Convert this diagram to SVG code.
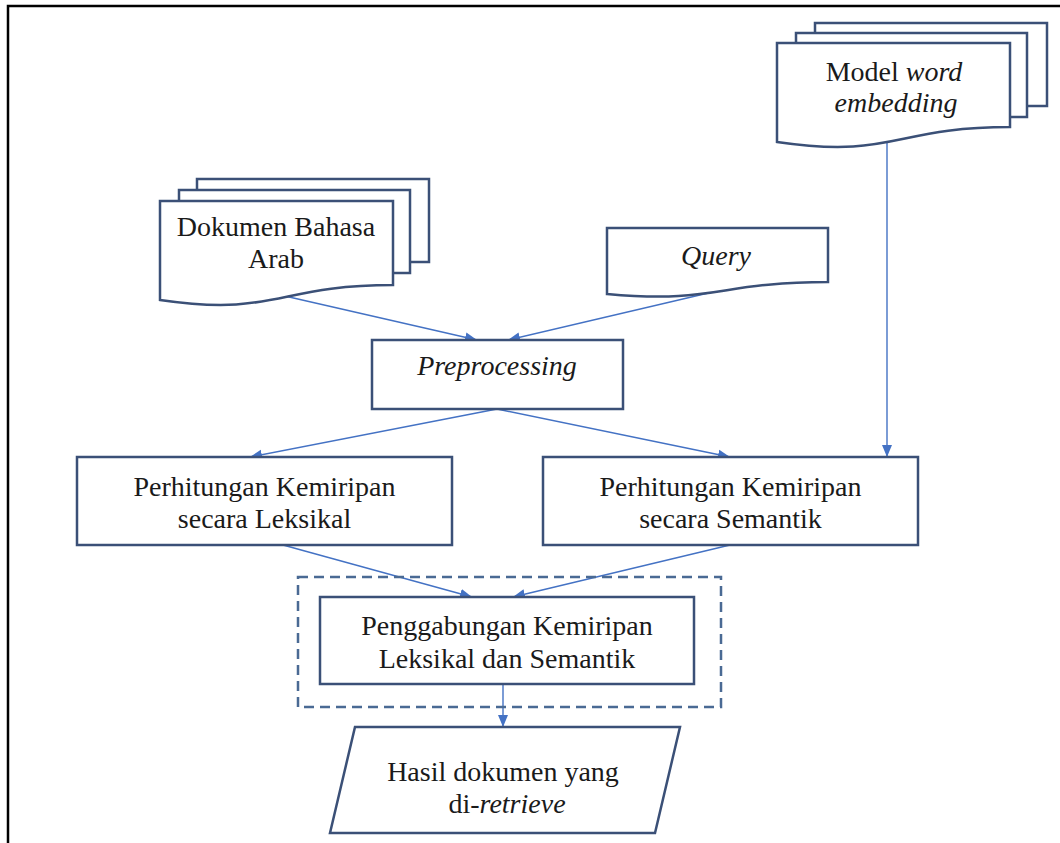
<svg xmlns="http://www.w3.org/2000/svg" width="1060" height="843" viewBox="0 0 1060 843">
<style>
.box{fill:#ffffff;stroke:#3b5077;stroke-width:2.5}
.con{fill:none;stroke:#4472c4;stroke-width:1.4}
.dash{fill:none;stroke:#4a6a94;stroke-width:2.5;stroke-dasharray:10 6}
.t{font-family:"Liberation Serif","Times New Roman",serif;font-size:28px;fill:#1a1a1a;text-anchor:middle}
.i{font-style:italic}
</style>
<defs>
<marker id="arr" viewBox="0 0 12 10" refX="12" refY="5" markerWidth="12" markerHeight="11" markerUnits="userSpaceOnUse" orient="auto"><path d="M0,0 L12,5 L0,10 z" fill="#4472c4"/></marker>
</defs>
<rect width="1060" height="843" fill="#ffffff"/>
<path d="M8,843 V6 H1060" fill="none" stroke="#000" stroke-width="2.5"/>

<g id="connectors">
<line class="con" x1="276" y1="294" x2="477" y2="340" marker-end="url(#arr)"/>
<line class="con" x1="717" y1="291" x2="508" y2="340" marker-end="url(#arr)"/>
<line class="con" x1="887" y1="141" x2="887" y2="457" marker-end="url(#arr)"/>
<line class="con" x1="497" y1="409" x2="250" y2="457" marker-end="url(#arr)"/>
<line class="con" x1="497" y1="409" x2="730" y2="457" marker-end="url(#arr)"/>
<line class="con" x1="283" y1="545" x2="472" y2="597" marker-end="url(#arr)"/>
<line class="con" x1="730" y1="545" x2="513" y2="597" marker-end="url(#arr)"/>
<line class="con" x1="503" y1="684" x2="503" y2="727" marker-end="url(#arr)"/>
</g>

<g id="model">
<rect class="box" x="815" y="23" width="232" height="83"/>
<rect class="box" x="796" y="33" width="231" height="84"/>
<path class="box" d="M777,43 H1010 V127 C893.5,127 893.5,159 777,142 Z"/>
<text class="t" x="894" y="81">Model <tspan class="i">word</tspan></text>
<text class="t i" x="896" y="112">embedding</text>
</g>

<g id="dokumen">
<rect class="box" x="197" y="179" width="232" height="83"/>
<rect class="box" x="179" y="190" width="231" height="83"/>
<path class="box" d="M160,201 H393 V285 C276.5,285 276.5,317 160,300 Z"/>
<text class="t" x="276" y="236">Dokumen Bahasa</text>
<text class="t" x="276" y="268">Arab</text>
</g>

<g id="query">
<path class="box" d="M607,228 H828 V282 C717.5,282 717.5,304 607,294 Z"/>
<text class="t i" x="716" y="265">Query</text>
</g>

<g id="preprocessing">
<rect class="box" x="372" y="340" width="251" height="69"/>
<text class="t i" x="497" y="375">Preprocessing</text>
</g>

<g id="leksikal">
<rect class="box" x="77" y="457" width="375" height="88"/>
<text class="t" x="264.5" y="496">Perhitungan Kemiripan</text>
<text class="t" x="264.5" y="528">secara Leksikal</text>
</g>

<g id="semantik">
<rect class="box" x="543" y="457" width="375" height="88"/>
<text class="t" x="730.5" y="496">Perhitungan Kemiripan</text>
<text class="t" x="730.5" y="528">secara Semantik</text>
</g>

<g id="penggabungan">
<rect class="dash" x="298" y="577" width="423" height="130"/>
<rect class="box" x="320" y="597" width="374" height="87"/>
<text class="t" x="507" y="635">Penggabungan Kemiripan</text>
<text class="t" x="507" y="668">Leksikal dan Semantik</text>
</g>

<g id="hasil">
<path class="box" d="M355,727 L680,727 L655,833 L330,833 Z"/>
<text class="t" x="503" y="781">Hasil dokumen yang</text>
<text class="t" x="507" y="813">di-<tspan class="i">retrieve</tspan></text>
</g>
</svg>
